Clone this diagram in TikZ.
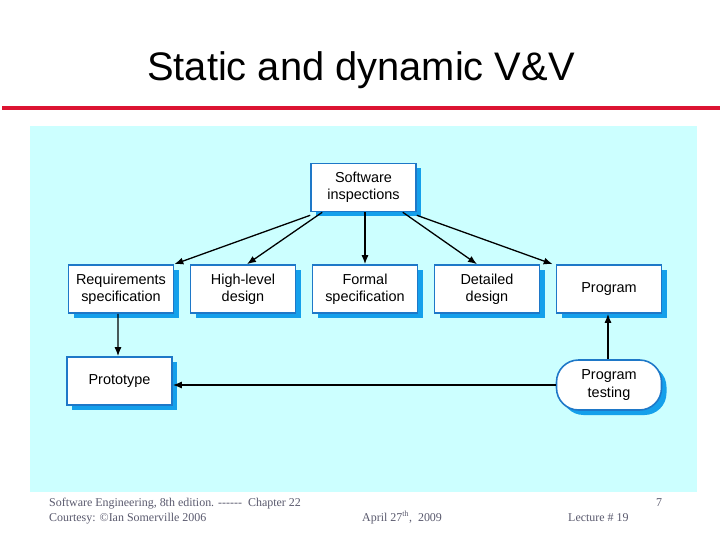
\documentclass[tikz,border=0pt]{standalone}
\usepackage{fontspec}
\setmainfont{Liberation Serif}
\newfontfamily\arialfont{Liberation Sans}
\usetikzlibrary{shadows,arrows.meta}
\definecolor{slidecyan}{RGB}{204,255,255}
\definecolor{boxblue}{RGB}{30,120,200}
\definecolor{shadeblue}{RGB}{20,160,235}
\definecolor{titlered}{RGB}{220,20,50}
\definecolor{footgray}{RGB}{90,90,110}

\tikzstyle{stage}=[rectangle,draw=boxblue,fill=white,line width=1.6pt,minimum width=105bp,minimum height=48bp,inner sep=0pt,align=center,font=\arialfont\fontsize{14.5}{17.5}\selectfont,drop shadow={shadow xshift=5bp,shadow yshift=-5bp,fill=shadeblue,opacity=1}]
\tikzstyle{activity}=[stage,rounded corners=22bp,minimum height=50bp]
\tikzstyle{edge} = [draw,line width=1.3pt,-{Latex[length=9bp,width=7bp]}]
\tikzstyle{foot} = [font=\fontsize{12}{14}\selectfont,text=footgray,anchor=base west,inner sep=0pt]

\begin{document}
\begin{tikzpicture}[x=1bp,y=-1bp]
\useasboundingbox (0,0) rectangle (720,540);
\fill[white] (0,0) rectangle (720,540);
\node[font=\arialfont\fontsize{40}{44}\selectfont] (title) at (361,70) {Static and dynamic V\&V};
\fill[titlered] (2,106) rectangle (720,110);
\fill[slidecyan] (30,126) rectangle (697,492);

\node[stage] (insp) at (363.5,187.5) {Software\\inspections};
\foreach \pos/\name/\txt in {{(121,289)/req/Requirements\\specification},
                             {(243,289)/hld/High-level\\design},
                             {(365,289)/formal/Formal\\specification},
                             {(487,289)/detail/Detailed\\design},
                             {(609,289)/prog/Program}}{
  \node[stage] (\name) at \pos {\txt};
}
\node[stage] (proto) at (119.5,381) {Prototype};
\node[activity] (test) at (609,385) {Program\\testing};

\path[edge] ([yshift=-3bp]insp.south west) -- (req.north east);
\path[edge] ([xshift=12bp]insp.south west) -- ([xshift=4bp]hld.north);
\path[edge] (insp.south) -- (formal.north |- insp.south) -- (formal.north);
\path[edge] ([xshift=-14bp]insp.south east) -- ([xshift=-10bp]detail.north);
\path[edge] ([yshift=-3bp]insp.south east) -- ([xshift=-3bp]prog.north west);
\path[edge] ([xshift=-3bp]req.south) -- ([xshift=-1.5bp]proto.north);
\path[edge] ([xshift=-1bp]test.north) -- ([xshift=-1bp]test.north |- prog.south);
\path[edge] (test.west) -- (test.west -| proto.east);

\node[foot] (book) at (49,506) {Software Engineering, 8th edition. -{}-{}-{}-{}-{}- \ Chapter 22};
\node[foot] (credit) at (49,521) {Courtesy: \textcopyright Ian Somerville 2006};
\node[foot] (date) at (362,521) {April 27\textsuperscript{th}, \ 2009};
\node[foot] (lecture) at (568,521) {Lecture \# 19};
\node[foot] (page) at (656,506) {7};
\end{tikzpicture}
\end{document}
